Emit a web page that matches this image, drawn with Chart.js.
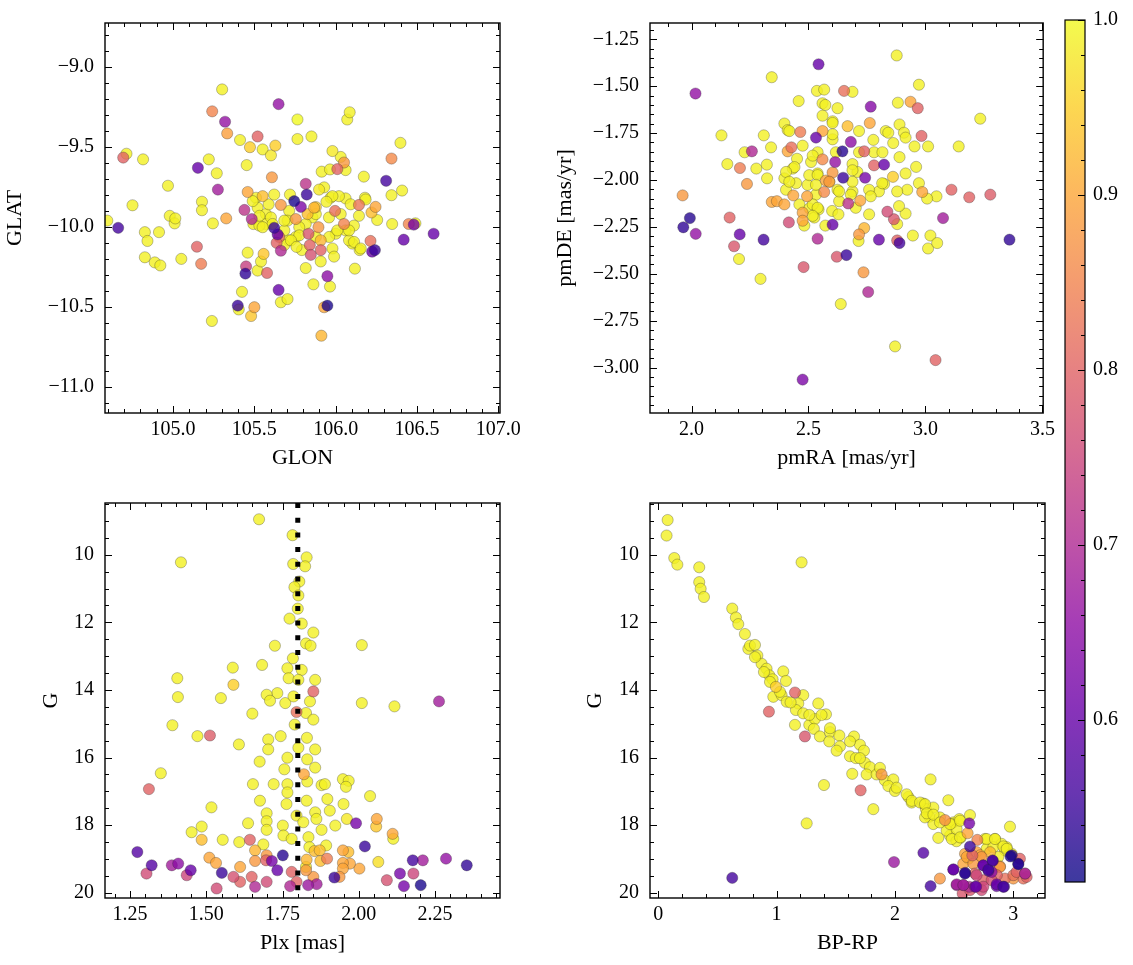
<!DOCTYPE html>
<html><head><meta charset="utf-8">
<script src="https://cdn.jsdelivr.net/npm/chart.js@4.4.0/dist/chart.umd.min.js"></script>
<style>
html,body{margin:0;padding:0;background:#fff;}
#wrap{position:relative;width:1133px;height:965px;overflow:hidden;background:#fff;}
canvas{position:absolute;}
</style></head><body><div id="wrap">
<canvas id="c1" width="530" height="475" style="left:0px;top:0px"></canvas>
<canvas id="c2" width="520" height="475" style="left:540px;top:0px"></canvas>
<canvas id="c3" width="490" height="480" style="left:30px;top:480px"></canvas>
<canvas id="c4" width="485" height="480" style="left:575px;top:480px"></canvas>
<canvas id="c5" width="93" height="965" style="left:1040px;top:0px"></canvas>
</div>
<script>
// ---- data: [x, y, membership probability] ----
const skyPoints = [
[105.302,-9.139,.99],[105.241,-9.276,.85],[105.320,-9.341,.66],[105.649,-9.231,.66],[105.765,-9.327,1.0],
[106.071,-9.327,.99],[106.086,-9.282,.99],[105.333,-9.414,.89],[105.520,-9.433,.80],[105.412,-9.455,.99],
[105.473,-9.500,.95],[105.551,-9.514,.99],[105.629,-9.490,.95],[105.765,-9.449,.99],[105.851,-9.433,.99],
[105.602,-9.551,.98],[106.398,-9.473,.99],[104.714,-9.541,.99],[104.694,-9.565,.80],[104.816,-9.576,.99],
[105.220,-9.576,.99],[105.153,-9.629,.60],[105.269,-9.663,.99],[105.453,-9.612,.99],[105.980,-9.524,.98],
[106.031,-9.561,.99],[106.051,-9.596,.88],[106.010,-9.637,.80],[105.914,-9.653,.99],[105.965,-9.639,.99],
[106.061,-9.643,.99],[106.343,-9.571,.86],[106.310,-9.710,.56],[106.173,-9.684,.99],[105.608,-9.688,.88],
[105.276,-9.765,.68],[104.969,-9.741,.99],[106.408,-9.771,.99],[106.343,-9.800,.99],[104.751,-9.863,.99],
[105.178,-9.841,.99],[105.178,-9.894,.99],[105.459,-9.780,.90],[105.327,-9.945,.90],[105.245,-9.976,.99],
[104.980,-9.929,.99],[105.010,-9.976,.99],[105.014,-9.945,.99],[104.827,-10.031,.99],[104.843,-10.086,.99],
[104.914,-10.031,.99],[104.663,-10.004,.56],[104.596,-9.959,.99],[104.827,-10.188,.99],[104.888,-10.220,.99],
[104.922,-10.239,.99],[105.051,-10.198,.99],[105.147,-10.122,.80],[105.173,-10.229,.84],[105.439,-9.892,.72],
[105.484,-9.949,.70],[105.494,-9.980,.99],[105.459,-10.159,.99],[105.449,-10.245,.74],[105.445,-10.290,.54],
[105.520,-10.271,.99],[105.557,-10.167,.94],[105.541,-10.214,.99],[105.578,-10.286,.80],[105.649,-10.392,.60],
[105.424,-10.404,.99],[105.404,-10.514,.99],[105.398,-10.490,.55],[105.500,-10.500,.90],[105.480,-10.555,.94],
[105.239,-10.586,.99],[105.663,-10.469,.99],[105.704,-10.449,.99],[105.863,-10.357,.99],[105.949,-10.306,.65],
[105.965,-10.371,.99],[105.929,-10.500,.90],[105.949,-10.490,.52],[105.912,-10.678,.92],[105.816,-10.255,.99],
[106.118,-10.259,.99],[106.224,-10.153,.60],[106.241,-10.143,.55],[106.214,-10.086,.82],[106.147,-10.143,.99],
[106.102,-10.102,.99],[106.418,-10.078,.60],[106.490,-9.976,.99],[106.449,-9.980,.85],[106.480,-9.984,.62],
[106.602,-10.041,.60],[106.347,-9.980,.99],[106.255,-9.955,.99],[106.245,-9.873,.90],[106.220,-9.908,.93],
[106.143,-9.861,.83],[106.143,-9.929,.99],[106.180,-9.816,.99],[106.061,-9.820,.99],[106.051,-9.980,.85],
[106.061,-10.020,.99],[106.000,-10.041,.99],[105.996,-9.898,.82],[105.980,-10.133,.99],[105.990,-10.184,.99],
[105.908,-10.214,.99],[105.908,-10.143,.80],[105.847,-10.173,.77],[105.841,-10.112,.80],[105.833,-10.041,.78],
[105.894,-10.000,.88],[105.908,-10.082,.92],[105.792,-10.143,.99],[105.755,-10.061,.99],[105.710,-10.082,.99],
[105.684,-10.112,.99],[105.653,-10.061,.82],[105.643,-10.045,.60],[105.622,-10.004,.55],[105.637,-10.098,.80],
[105.663,-10.147,.70],[105.745,-9.837,.52],[105.822,-9.796,.55],[105.816,-9.729,.72],[105.786,-9.873,.63],
[105.755,-9.949,.88],[105.663,-9.861,.88],[105.867,-9.878,.92],[105.898,-9.765,.98],[105.929,-9.751,.99],
[105.969,-9.816,.99],[106.020,-9.806,.99],[105.857,-9.939,.99],[105.816,-9.980,.99],[105.551,-9.806,.93],
[105.622,-9.796,.99],[105.510,-9.816,.99],[105.520,-9.878,.99],[105.571,-9.918,.99],[105.571,-9.980,.99],
[105.531,-9.990,.99],[105.490,-9.837,.99],[105.714,-9.898,.99],[105.704,-9.959,.99],[105.878,-10.061,.99],
[106.082,-10.082,.99],[105.959,-9.939,.99],[106.112,-9.990,.99],[105.776,-10.000,.99],[105.684,-10.020,.99],
[105.602,-9.939,.99],[106.031,-9.918,.99],
[105.719,-9.796,.99],[105.878,-9.874,.95],[105.980,-9.806,.99],[105.588,-9.857,.99],[105.531,-9.929,.99],
[105.612,-9.980,.99],[105.684,-9.959,.99],[105.827,-9.918,.93],[105.878,-9.918,.99],[105.776,-10.051,.99],
[105.725,-10.082,.99],[105.759,-10.123,.99],[105.960,-10.061,.99],[106.010,-10.020,.99],[106.082,-10.020,.99],
[106.113,-10.092,.99],[106.154,-10.133,.99],[106.184,-9.827,.99],[106.092,-9.857,.99],[105.943,-9.841,.99],
[105.551,-10.000,.99]
];
const pmPoints = [
[2.877,-1.336,.99],[2.543,-1.383,.60],[2.017,-1.539,.66],[2.343,-1.452,.99],[2.536,-1.525,.99],
[2.567,-1.518,.99],[2.652,-1.525,.82],[2.688,-1.530,.99],[2.972,-1.492,.99],[2.458,-1.579,.99],
[2.560,-1.591,.99],[2.572,-1.600,.99],[2.624,-1.617,.99],[2.766,-1.609,.64],[2.882,-1.588,.99],
[2.936,-1.583,.90],[2.967,-1.617,.80],[3.234,-1.673,.99],[2.560,-1.657,.99],[2.603,-1.687,.99],
[2.397,-1.699,.99],[2.411,-1.734,.99],[2.667,-1.713,.93],[2.762,-1.696,.90],[2.889,-1.704,.99],
[2.128,-1.762,.99],[2.309,-1.762,.99],[2.340,-1.826,.99],[2.465,-1.744,.84],[2.532,-1.774,.60],
[2.560,-1.739,.90],[2.681,-1.797,.65],[2.716,-1.739,.99],[2.830,-1.739,.99],[2.908,-1.748,.99],
[2.983,-1.765,.80],[2.777,-1.786,.99],[2.862,-1.803,.99],[2.915,-1.774,.99],[2.953,-1.821,.99],
[3.011,-1.821,.99],[3.142,-1.821,.99],[2.227,-1.852,.99],[2.258,-1.847,.70],[2.153,-1.915,.99],
[2.207,-1.936,.84],[2.277,-1.939,.99],[2.322,-1.918,.99],[2.237,-2.021,.88],[2.323,-1.991,.99],
[2.427,-1.826,.82],[2.411,-1.847,.90],[2.451,-1.887,.99],[2.475,-1.817,.99],[2.645,-1.847,.53],
[2.560,-1.890,.86],[2.614,-1.904,.66],[2.738,-1.847,.80],[2.823,-1.918,.60],[2.780,-1.922,.80],
[2.960,-1.930,.99],[2.648,-1.988,.55],[2.742,-1.988,.62],[2.603,-1.960,.88],[2.574,-2.003,.90],
[2.567,-2.064,.86],[2.670,-2.125,.72],[2.721,-2.110,.90],[2.397,-1.991,.99],[2.447,-2.017,.99],
[2.435,-2.082,.90],[2.494,-2.087,.90],[2.343,-2.117,.90],[2.365,-2.113,.90],[2.397,-2.130,.90],
[2.461,-2.130,.99],[2.504,-2.151,.99],[2.543,-2.157,.99],[2.601,-2.165,.99],[2.628,-2.183,.99],
[2.475,-2.174,.90],[2.475,-2.217,.90],[2.482,-2.243,.99],[2.525,-2.200,.99],[2.572,-2.243,.99],
[2.603,-2.238,.60],[2.163,-2.200,.80],[2.416,-2.226,.76],[2.206,-2.290,.60],[2.018,-2.287,.66],
[1.993,-2.203,.53],[1.965,-2.252,.54],[1.962,-2.082,.88],[2.182,-2.353,.78],[2.203,-2.421,.99],
[2.308,-2.318,.56],[2.295,-2.527,.99],[2.479,-2.464,.78],[2.539,-2.313,.70],[2.621,-2.409,.78],
[2.662,-2.400,.55],[2.638,-2.661,.99],[2.735,-2.492,.88],[2.755,-2.597,.70],[2.475,-3.064,.63],
[2.870,-2.887,.99],[3.043,-2.960,.80],[2.716,-2.290,.88],[2.714,-2.325,.99],[2.738,-2.256,.92],
[2.801,-2.318,.60],[2.837,-2.169,.76],[2.865,-2.209,.78],[2.879,-2.322,.80],[2.889,-2.336,.56],
[2.879,-2.235,.99],[2.915,-2.179,.99],[2.887,-2.139,.99],[2.946,-2.296,.99],[3.021,-2.296,.99],
[3.011,-2.365,.99],[3.050,-2.336,.99],[3.075,-2.203,.68],[3.111,-2.052,.80],[3.187,-2.092,.80],
[3.277,-2.078,.79],[3.359,-2.318,.54],[3.047,-2.087,.99],[3.007,-2.099,.99],[2.986,-2.064,.90],
[2.972,-2.017,.99],[2.922,-2.052,.99],[2.879,-2.061,.99],[2.915,-1.965,.99],[2.861,-1.983,.95],
[2.823,-2.021,.99],[2.801,-2.061,.99],[2.759,-2.052,.99],[2.780,-1.852,.99],[2.816,-1.852,.99],
[2.766,-2.087,.99],[2.688,-2.061,.99],[2.624,-2.052,.99],[2.631,-2.113,.99],[2.688,-2.009,.99],
[2.709,-1.957,.99],[2.688,-1.915,.99],[2.617,-1.852,.99],[2.539,-1.852,.99],[2.511,-1.904,.99],
[2.539,-1.965,.99],[2.496,-2.026,.99],[2.589,-2.009,.99],[2.532,-2.078,.99],[2.518,-2.130,.99],
[2.404,-2.052,.99],[2.433,-1.939,.99],[2.603,-1.783,.99],[2.716,-1.852,.99],[2.889,-1.878,.99],
[2.841,-1.748,.99],[2.681,-2.078,.99],
[2.603,-1.696,.99],[2.418,-1.739,.99],[2.603,-1.756,.99],[2.518,-1.870,.99],[2.440,-1.931,.99],
[2.503,-1.974,.99],[2.539,-1.974,.99],[2.688,-1.948,.99],[2.815,-2.017,.99],[2.631,-2.061,.99],
[2.589,-2.009,.88],[2.532,-2.026,.99],[2.539,-2.148,.99],[2.702,-2.148,.99],[2.759,-2.183,.99],
[2.518,-2.191,.99],[2.404,-1.957,.99],[2.418,-2.009,.99]
];
const plxPoints = [
[1.673,8.952,.99],[1.417,10.225,.99],[2.010,12.674,.99],[1.587,13.340,.99],[1.405,13.653,.99],
[1.407,14.211,.99],[1.589,13.849,.95],[1.548,14.241,.99],[1.651,14.701,.99],[1.389,15.044,.99],
[1.471,15.367,.99],[1.512,15.348,.79],[1.607,15.612,.99],[2.010,14.388,.99],[2.117,14.486,.99],
[2.263,14.339,.68],[1.351,16.464,.99],[1.312,16.934,.80],[1.517,17.473,.99],[1.452,18.208,.99],
[1.485,18.041,.99],[1.485,18.433,.93],[1.554,18.433,.99],[1.274,18.795,.58],[1.321,19.187,.58],
[1.304,19.432,.76],[1.387,19.187,.68],[1.408,19.138,.65],[1.436,19.481,.75],[1.449,19.334,.60],
[1.510,18.962,.90],[1.532,19.118,.90],[1.551,19.412,.55],[1.534,19.873,.76],[2.037,17.140,.99],
[1.991,17.943,.62],[2.059,17.816,.90],[2.057,18.041,.94],[2.111,18.257,.90],[2.113,18.403,.99],
[2.020,18.629,.55],[2.064,19.089,.97],[2.092,19.628,.77],[2.135,19.432,.62],[2.148,19.804,.62],
[2.177,19.040,.56],[2.179,19.432,.75],[2.203,19.775,.52],[2.210,19.040,.68],[2.286,18.991,.66],
[2.354,19.187,.54],[2.002,19.285,.90],[1.971,19.138,.90],[1.966,18.795,.93],
[1.783,9.422,.99],[1.829,10.078,.99],[1.785,10.274,.99],[1.824,10.343,.99],[1.805,10.793,.99],
[1.789,10.960,.99],[1.802,11.205,.99],[1.800,11.596,.99],[1.773,11.890,.99],[1.813,12.037,.99],
[1.851,12.302,.99],[1.827,12.625,.99],[1.842,12.693,.99],[1.725,12.693,.99],[1.683,13.261,.99],
[1.784,13.066,.99],[1.766,13.359,.99],[1.813,13.408,.99],[1.770,13.653,.99],[1.802,13.702,.99],
[1.857,13.702,.99],[1.733,14.094,.99],[1.698,14.143,.99],[1.709,14.319,.99],[1.759,14.388,.99],
[1.786,14.192,.99],[1.840,14.339,.99],[1.851,14.045,.80],[1.796,14.652,.82],[1.827,14.682,.99],
[1.851,14.878,.99],[1.790,15.025,.99],[1.744,15.367,.99],[1.703,15.465,.99],[1.703,15.759,.99],
[1.830,15.416,.99],[1.857,15.759,.99],[1.802,15.710,.99],[1.766,16.004,.99],[1.831,16.053,.99],
[1.675,16.121,.99],[1.756,16.347,.99],[1.857,16.298,.99],[1.820,16.494,.90],[1.766,16.787,.99],
[1.831,16.709,.99],[1.653,16.787,.99],[1.721,16.787,.99],[1.766,17.032,.99],[1.878,16.817,.99],
[1.889,16.787,.99],[1.948,16.640,.99],[1.967,16.690,.99],[1.958,16.866,.99],[1.676,17.277,.99],
[1.763,17.375,.99],[1.829,17.277,.99],[1.897,17.228,.99],[1.950,17.375,.99],[1.698,17.649,.99],
[1.698,17.884,.99],[1.796,17.718,.99],[1.857,17.620,.99],[1.861,17.816,.99],[1.905,17.571,.99],
[1.637,17.943,.99],[1.751,18.012,.99],[1.818,17.914,.99],[1.878,18.139,.99],[1.923,18.012,.99],
[1.961,17.816,.98],[1.698,18.139,.99],[1.753,18.306,.99],[1.780,18.404,.99],[1.835,18.355,.99],
[1.608,18.502,.99],[1.643,18.433,.80],[1.660,18.746,.92],[1.687,18.570,.99],[1.751,18.893,.53],
[1.838,18.649,.99],[1.855,18.766,.93],[1.872,18.746,.93],[1.893,18.600,.99],[1.948,18.746,.90],
[1.948,19.118,.90],[1.896,18.991,.84],[1.874,19.060,.93],[1.829,19.021,.92],[1.827,19.236,.99],
[1.698,18.893,.88],[1.696,19.040,.80],[1.715,19.060,.62],[1.733,19.334,.60],[1.660,19.060,.88],
[1.611,19.236,.90],[1.589,19.530,.77],[1.611,19.677,.80],[1.649,19.530,.80],[1.660,19.824,.70],
[1.698,19.677,.76],[1.780,19.383,.80],[1.775,19.804,.70],[1.796,19.677,.80],[1.834,19.775,.67],
[1.862,19.745,.68],[1.851,19.530,.88],[1.827,19.334,.88],[1.920,19.549,.55],[1.937,19.530,.88],
[1.948,19.285,.90]
];
const cmdPoints = [
[0.079,8.974,.99],[0.070,9.433,.99],[0.135,10.098,.99],[0.161,10.293,.99],[0.346,10.371,.99],
[0.346,10.811,.99],[0.358,11.007,.99],[0.386,11.251,.99],[1.211,10.225,.99],[0.625,11.593,.99],
[0.656,11.857,.99],[0.676,12.053,.99],[0.732,12.346,.99],[0.761,12.786,.99],[0.775,12.688,.99],
[0.817,12.669,.99],[0.837,12.981,.99],[0.873,13.226,.99],[0.915,13.372,.99],[0.938,13.568,.99],
[0.966,13.685,.99],[1.056,13.451,.99],[1.079,13.734,.99],[0.994,13.910,.95],[0.972,14.203,.99],
[1.042,14.154,.99],[1.085,14.350,.99],[1.155,14.076,.80],[1.225,14.154,.99],[1.183,14.399,.99],
[1.163,14.594,.99],[1.225,14.692,.99],[1.352,14.399,.99],[1.417,14.721,.99],[0.935,14.643,.80],
[1.155,15.034,.99],[1.276,15.034,.99],[1.324,14.858,.99],[1.315,15.151,.99],[1.239,15.376,.78],
[1.366,15.376,.99],[1.451,15.249,.99],[1.530,15.347,.99],[1.445,15.523,.99],[1.535,15.670,.99],
[1.507,15.797,.99],[1.620,15.963,.99],[1.654,15.376,.99],[1.704,15.621,.99],[1.738,15.797,.99],
[1.670,16.017,.99],[1.746,16.158,.99],[1.789,16.285,.99],[1.639,16.481,.99],[1.761,16.500,.99],
[1.845,16.500,.99],[1.887,16.500,.88],[1.915,16.676,.99],[1.986,16.647,.99],[1.944,16.843,.99],
[2.000,16.989,.99],[1.400,16.813,.99],[1.710,16.970,.80],[1.817,17.527,.99],[1.254,17.947,.99],
[2.301,16.647,.99],[2.113,17.165,.99],[2.141,17.331,.99],[2.239,17.361,.99],[2.262,17.527,.99],
[2.324,17.478,.99],[2.451,17.263,.99],[2.290,17.752,.99],[2.324,17.967,.99],[2.380,17.771,.99],
[2.423,17.850,.87],[2.493,17.918,.99],[2.544,17.820,.99],[2.634,17.703,.99],[2.366,18.377,.99],
[2.465,18.309,.99],[2.555,18.377,.99],[2.614,18.240,.90],[2.972,18.045,.99],[2.696,18.436,.85],
[2.761,18.407,.99],[2.845,18.407,.99],[2.901,18.553,.99],[2.930,18.749,.99],[2.775,18.700,.99],
[2.690,18.798,.90],[2.592,18.847,.90],[2.520,18.475,.99],[2.831,18.651,.99],[2.944,18.651,.99],
[2.986,18.847,.99],[2.620,18.993,.99],[2.473,17.967,.99],[2.437,18.162,.99],[2.521,18.113,.99],
[2.254,17.771,.99],[2.099,17.087,.99],[2.014,16.891,.99],[1.873,16.305,.99],[1.704,16.017,.99],
[1.620,15.523,.99],[1.451,15.132,.99],[1.380,14.741,.99],[1.276,14.741,.99],[1.118,14.370,.99],
[1.028,14.057,.99],[0.944,13.763,.99],[0.893,13.470,.99],[0.817,13.030,.99],[2.628,17.947,.62],
[2.634,18.631,.55],[2.240,18.820,.58],[1.992,19.091,.67],[0.625,19.560,.56],[2.301,19.804,.56],
[2.380,19.580,.88],[2.493,19.316,.60],[2.592,19.433,.53],[2.521,19.775,.68],[2.577,19.775,.68],
[2.676,19.824,.63],[2.628,19.824,.70],[2.654,18.895,.80],[2.732,18.944,.88],[2.746,19.189,.60],
[2.789,19.316,.56],[2.825,19.042,.56],[2.887,19.238,.88],[2.859,19.804,.60],[2.915,19.824,.56],
[2.977,18.925,.52],[3.042,19.140,.53],[3.099,19.433,.70],[3.113,19.531,.80],[3.000,19.580,.88],
[2.746,19.629,.80],[2.690,19.482,.75],[2.732,19.922,.76],[2.572,20.020,.78],[2.817,19.629,.77],
[2.930,19.580,.82],[3.056,18.993,.80],[2.577,19.140,.90],[2.662,19.140,.88],[2.817,19.384,.65],
[3.028,19.384,.80],[3.085,19.580,.82],
[2.480,18.410,.99],[2.550,18.360,.99],[2.776,18.410,.99],[2.846,18.410,.99],[2.916,18.630,.99],
[2.945,18.700,.99],[2.607,18.940,.90],[2.720,18.890,.90],[2.804,18.800,.92],[2.874,18.940,.99],
[2.987,18.890,.54],[3.043,19.160,.53],[2.747,19.190,.60],[2.827,19.060,.60],[2.790,19.350,.58],
[2.888,19.220,.90],[2.494,19.310,.60],[2.593,19.410,.55],[2.677,19.430,.80],[2.861,19.480,.80],
[3.001,19.480,.82],[3.100,19.430,.70],[2.522,19.750,.68],[2.578,19.770,.68],[2.686,19.820,.60],
[2.747,19.820,.75],[2.860,19.750,.60],[2.922,19.820,.58],[2.635,19.920,.78],[2.142,17.280,.99],
[2.212,17.330,.99],[2.254,17.380,.99],[2.269,17.650,.99],[2.325,17.690,.99],[2.381,17.920,.99],
[2.466,17.970,.99],[2.550,17.870,.99]
];
// ---- tick values ----
const glonTicks = [105.0, 105.5, 106.0, 106.5, 107.0];
const glatTicks = [-11.0, -10.5, -10.0, -9.5, -9.0];
const pmraTicks = [2.0, 2.5, 3.0, 3.5];
const pmdeTicks = [-3.0, -2.75, -2.5, -2.25, -2.0, -1.75, -1.5, -1.25];
const plxTicks = [1.25, 1.5, 1.75, 2.0, 2.25];
const gTicks = [10, 12, 14, 16, 18, 20];
const bprpTicks = [0, 1, 2, 3];
const probTicks = [0.6, 0.7, 0.8, 0.9, 1.0];
const plxRef = 1.8;
const probMin = 0.5075, probMax = 1.0;

// ---- colormap (plasma) ----
const plasma = [[13,8,135],[65,4,157],[106,0,168],[143,13,164],[177,42,144],[204,71,120],[225,100,98],[242,132,75],[252,166,54],[252,206,37],[240,249,33]];
function cmap(t){t=Math.max(0,Math.min(1,t));const s=t*10;const i=Math.min(9,Math.floor(s));const f=s-i;const a=plasma[i],b=plasma[i+1];return [0,1,2].map(k=>Math.round(a[k]+(b[k]-a[k])*f));}
function colorFor(p,alpha){const c=cmap((p-probMin)/(probMax-probMin));return 'rgba('+c[0]+','+c[1]+','+c[2]+','+alpha+')';}

Chart.defaults.color = '#000';
Chart.defaults.font.family = "'Liberation Serif', 'DejaVu Serif', serif";
const TICK_FONT = {size: 20, family: "'Liberation Serif', serif"};
const TITLE_FONT = {size: 22, family: "'Liberation Serif', serif"};
function fmt(v, d){ return v.toFixed(d).replace('-', '\u2212'); }

const frameTicks = {
  id: 'frameTicks',
  afterDraw(chart, args, opts){
    const {ctx, chartArea: a} = chart; const xs = chart.scales.x, ys = chart.scales.y;
    ctx.save(); ctx.strokeStyle = '#000'; ctx.lineWidth = 1;
    const MAJ = 7, MIN = 4;
    const dx = (v, len) => { const p = Math.round(xs.getPixelForValue(v)) + 0.5; ctx.beginPath(); ctx.moveTo(p, a.bottom); ctx.lineTo(p, a.bottom - len); ctx.moveTo(p, a.top); ctx.lineTo(p, a.top + len); ctx.stroke(); };
    const dy = (v, len) => { const p = Math.round(ys.getPixelForValue(v)) + 0.5; ctx.beginPath(); ctx.moveTo(a.left, p); ctx.lineTo(a.left + len, p); ctx.moveTo(a.right, p); ctx.lineTo(a.right - len, p); ctx.stroke(); };
    const minors = (sc, step, fn) => { const lo = Math.min(sc.min, sc.max), hi = Math.max(sc.min, sc.max); for (let k = Math.ceil(lo/step - 1e-9); k*step <= hi + 1e-9; k++) fn(k*step, MIN); };
    minors(xs, opts.minorX, dx); minors(ys, opts.minorY, dy);
    xs.ticks.forEach(t => dx(t.value, MAJ)); ys.ticks.forEach(t => dy(t.value, MAJ));
    ctx.lineWidth = 1.4; ctx.strokeRect(a.left, a.top, a.right - a.left, a.bottom - a.top);
    ctx.restore();
  }
};

function makePanel(id, pts, cfg){
  const sorted = pts.slice().sort((p, q) => q[2] - p[2]);
  const datasets = [];
  if (cfg.extra) datasets.push(cfg.extra);
  datasets.push({
    data: sorted.map(p => ({x: p[0], y: p[1]})),
    pointBackgroundColor: sorted.map(p => colorFor(p[2], 0.8)),
    pointBorderColor: 'rgba(40,40,40,0.5)',
    pointBorderWidth: 0.6,
    pointRadius: 5.6,
    showLine: false,
    clip: 0
  });
  return new Chart(document.getElementById(id), {
    type: 'scatter',
    data: {datasets},
    plugins: [frameTicks],
    options: {
      responsive: false, animation: false, devicePixelRatio: 1,
      layout: {padding: cfg.padding},
      plugins: {legend: {display: false}, tooltip: {enabled: false}, frameTicks: {minorX: cfg.minorX, minorY: cfg.minorY}},
      scales: {
        x: {
          type: 'linear', min: cfg.xmin, max: cfg.xmax,
          grid: {display: false, drawTicks: false}, border: {display: false},
          afterBuildTicks: s => { s.ticks = cfg.xTicks.map(v => ({value: v})); },
          afterFit: s => { s.height = cfg.xH; },
          ticks: {font: TICK_FONT, padding: 5, autoSkip: false, maxRotation: 0, minRotation: 0, color: '#000',
                  callback: v => fmt(v, cfg.xDec)},
          title: {display: true, text: cfg.xTitle, font: TITLE_FONT, color: '#000', padding: {top: 0, bottom: 3.8}}
        },
        y: {
          type: 'linear', min: cfg.ymin, max: cfg.ymax, reverse: !!cfg.reverse,
          grid: {display: false, drawTicks: false}, border: {display: false},
          afterBuildTicks: s => { s.ticks = cfg.yTicks.map(v => ({value: v})); },
          afterFit: s => { s.width = cfg.yW; },
          ticks: {font: TICK_FONT, padding: 11, autoSkip: false, color: '#000',
                  callback: v => fmt(v, cfg.yDec)},
          title: {display: true, text: cfg.yTitle, font: TITLE_FONT, color: '#000', padding: {top: cfg.yTitlePad, bottom: 0}}
        }
      }
    }
  });
}

const gMin = 8.47, gMax = 20.155;

makePanel('c1', skyPoints, {xmin: 104.582, xmax: 107.01, ymin: -11.161, ymax: -8.724,
  xTicks: glonTicks, yTicks: glatTicks, xDec: 1, yDec: 1, minorX: 0.1, minorY: 0.1,
  xTitle: 'GLON', yTitle: 'GLAT', xH: 62, yW: 105, yTitlePad: 2.5,
  padding: {top: 15, right: 30, left: 0, bottom: 0}});

makePanel('c2', pmPoints, {xmin: 1.8226, xmax: 3.503, ymin: -3.242, ymax: -1.163,
  xTicks: pmraTicks, yTicks: pmdeTicks, xDec: 1, yDec: 2, minorX: 0.1, minorY: 0.05,
  xTitle: 'pmRA [mas/yr]', yTitle: 'pmDE [mas/yr]', xH: 62, yW: 110, yTitlePad: 11.8,
  padding: {top: 15, right: 15, left: 0, bottom: 0}});

makePanel('c3', plxPoints, {xmin: 1.168, xmax: 2.463, ymin: gMin, ymax: gMax, reverse: true,
  xTicks: plxTicks, yTicks: gTicks, xDec: 2, yDec: 0, minorX: 0.05, minorY: 0.5,
  xTitle: 'Plx [mas]', yTitle: 'G', xH: 62, yW: 75, yTitlePad: 7.8,
  padding: {top: 20, right: 20, left: 0, bottom: 0},
  extra: {type: 'line', data: [{x: plxRef, y: gMin}, {x: plxRef, y: gMax}], showLine: true,
          borderColor: '#000', borderWidth: 5, borderDash: [5, 9.7], pointRadius: 0, fill: false, clip: 0}});

makePanel('c4', cmdPoints, {xmin: -0.07, xmax: 3.268, ymin: gMin, ymax: gMax, reverse: true,
  xTicks: bprpTicks, yTicks: gTicks, xDec: 0, yDec: 0, minorX: 0.2, minorY: 0.5,
  xTitle: 'BP-RP', yTitle: 'G', xH: 62, yW: 75, yTitlePad: 6.8,
  padding: {top: 20, right: 15, left: 0, bottom: 0}});

// ---- colorbar ----
const cbarPlugin = {
  id: 'cbar',
  beforeDatasetsDraw(chart){
    const {ctx, chartArea: a} = chart; const ys = chart.scales.y;
    const g = ctx.createLinearGradient(0, ys.getPixelForValue(probMin), 0, ys.getPixelForValue(probMax));
    plasma.forEach((c, i) => g.addColorStop(i / 10, 'rgba(' + c.join(',') + ',0.8)'));
    ctx.save(); ctx.fillStyle = g; ctx.fillRect(a.left, a.top, a.right - a.left, a.bottom - a.top); ctx.restore();
  },
  afterDraw(chart){
    const {ctx, chartArea: a} = chart; const ys = chart.scales.y;
    ctx.save(); ctx.strokeStyle = '#000'; ctx.lineWidth = 1;
    const t = (v, len) => { const p = Math.round(ys.getPixelForValue(v)) + 0.5; ctx.beginPath(); ctx.moveTo(a.right, p); ctx.lineTo(a.right - len, p); ctx.stroke(); };
    for (let k = Math.ceil(probMin / 0.02 - 1e-9); k * 0.02 <= probMax + 1e-9; k++) t(k * 0.02, 4);
    ys.ticks.forEach(tk => t(tk.value, 7));
    ctx.lineWidth = 1.2; ctx.strokeRect(a.left, a.top, a.right - a.left, a.bottom - a.top);
    ctx.restore();
  }
};
new Chart(document.getElementById('c5'), {
  type: 'scatter',
  data: {datasets: []},
  plugins: [cbarPlugin],
  options: {
    responsive: false, animation: false, devicePixelRatio: 1,
    layout: {padding: {left: 25, top: 16, bottom: 83, right: 0}},
    plugins: {legend: {display: false}, tooltip: {enabled: false}},
    scales: {
      x: {display: false, min: 0, max: 1},
      y: {position: 'right', min: probMin, max: probMax,
          grid: {display: false, drawTicks: false}, border: {display: false},
          afterBuildTicks: s => { s.ticks = probTicks.map(v => ({value: v})); },
          afterFit: s => { s.width = 48; },
          ticks: {font: TICK_FONT, padding: 8, autoSkip: false, color: '#000', callback: v => fmt(v, 1)}}
    }
  }
});
</script>
</body></html>
